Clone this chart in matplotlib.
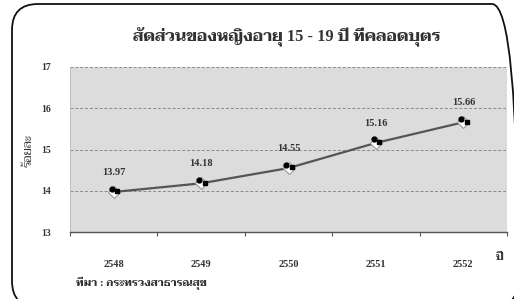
import matplotlib
matplotlib.use("Agg")
import matplotlib.pyplot as plt
from matplotlib.patches import FancyBboxPatch
import matplotlib.transforms as mtransforms

FONT = ['Liberation Serif', 'Taviraj', 'Noto Serif Thai', 'DejaVu Serif']
plt.rcParams['font.family'] = FONT

years = ['2548', '2549', '2550', '2551', '2552']
values = [13.97, 14.18, 14.55, 15.16, 15.66]
yticks = [13, 14, 15, 16, 17]
title = 'สัดส่วนของหญิงอายุ 15 - 19 ปี ที่คลอดบุตร'
ylabel = 'ร้อยละ'
xlabel = 'ปี'
source = 'ที่มา : กระทรวงสาธารณสุข'

fig = plt.figure(figsize=(5.14, 2.99), dpi=100)
fig.patch.set_facecolor('white')

# rounded frame
frame = FancyBboxPatch((0.12, -0.08), 5.06, 3.03,
                       boxstyle='round,pad=0,rounding_size=0.26',
                       transform=fig.dpi_scale_trans, fill=False,
                       edgecolor='#111111', linewidth=1.3, zorder=0)
fig.patches.append(frame)

ax = fig.add_axes([70/514, 1-232/299, 437/514, (232-67)/299])
ax.set_facecolor('#dcdcdc')
x = list(range(len(years)))

ax.plot(x, values, color='#555555', linewidth=1.6, zorder=3)
ax.plot(x, values, linestyle='none', marker='D', markersize=6,
        markerfacecolor='white', markeredgecolor='#999999', markeredgewidth=0.8, zorder=4)
t1 = mtransforms.offset_copy(ax.transData, fig=fig, x=-1.5, y=2.5, units='points')
ax.plot(x, values, linestyle='none', marker='o', markersize=3.5, color='black',
        transform=t1, zorder=5)
t2 = mtransforms.offset_copy(ax.transData, fig=fig, x=2.5, y=0.5, units='points')
ax.plot(x, values, linestyle='none', marker='s', markersize=2.8, color='black',
        transform=t2, zorder=5)

for xi, v in zip(x, values):
    ax.annotate(f'{v:.2f}', (xi, v), xytext=(0, 14), textcoords='offset points',
                ha='center', va='center', fontsize=7.5, fontweight='bold', color='#333333')

ax.set_xlim(-0.5, len(years) - 0.5)
ax.set_ylim(13, 17)
ax.set_yticks(yticks)
ax.set_yticklabels([str(t) for t in yticks], fontsize=7, fontweight='bold', color='#333333')
ax.tick_params(axis='y', length=0, pad=14)
ax.set_xticks(x)
ax.set_xticklabels(years, fontsize=7.5, fontweight='bold', color='#333333')
ax.tick_params(axis='x', length=0, pad=20)
ax.set_xticks([i + 0.5 for i in range(-1, len(years))], minor=True)
ax.tick_params(axis='x', which='minor', length=3, width=0.8, color='#555555', direction='out')

for yt in yticks[1:]:
    ax.axhline(yt, color='#8a8a8a', linewidth=0.7, linestyle=(0, (3, 2)), zorder=1)

for s in ['top', 'right']:
    ax.spines[s].set_visible(False)
ax.spines['left'].set_color('#bbbbbb')
ax.spines['left'].set_linewidth(0.6)
ax.spines['bottom'].set_color('#555555')
ax.spines['bottom'].set_linewidth(1.0)

fig.text(287/514, 1-37/299, title, ha='center', va='center', fontsize=11.8,
         fontweight='bold', color='#333333')
fig.text(29/514, 1-150/299, ylabel, ha='center', va='center', rotation=90,
         fontsize=9, color='#333333')
fig.text(500/514, 1-257/299, xlabel, ha='center', va='center', fontsize=8,
         fontweight='bold', color='#333333')
fig.text(76/514, 1-283/299, source, ha='left', va='center', fontsize=7.8,
         fontweight='bold', color='#333333')

fig.savefig('out.png', dpi=100)
